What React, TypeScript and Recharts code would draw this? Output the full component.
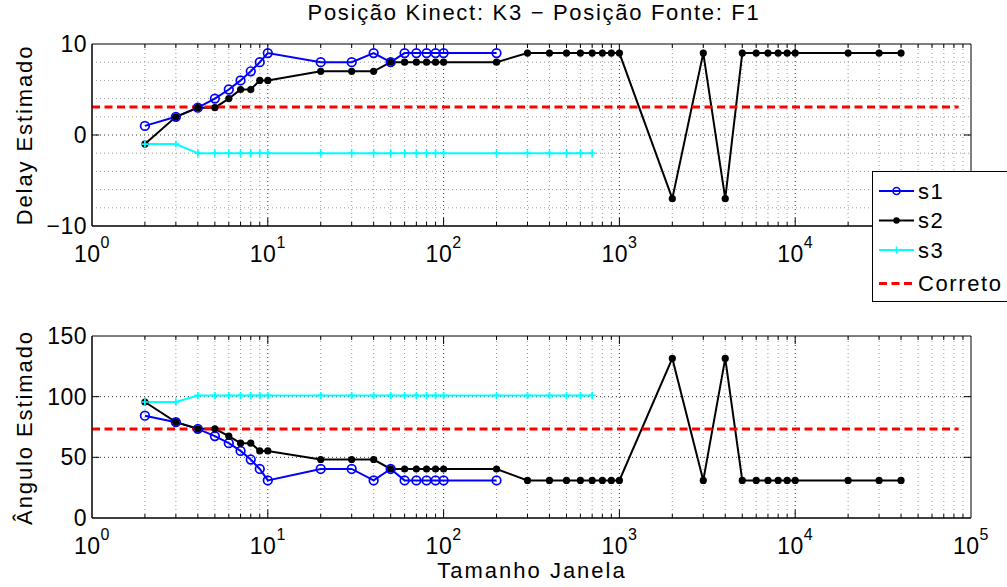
import React from "react";
import { LineChart, Line, XAxis, YAxis, ReferenceLine, ReferenceArea } from "recharts";

// window sizes (x axis, log scale)
const windowSizes = [
  2, 3, 4, 5, 6, 7, 8, 9, 10, 20, 30, 40, 50, 60, 70, 80, 90, 100, 200, 300, 400, 500, 600, 700, 800, 900, 1000,
  2000, 3000, 4000, 5000, 6000, 7000, 8000, 9000, 10000, 20000, 30000, 40000,
];

// delay estimates
const s1Delay = [1, 2, 3, 4, 5, 6, 7, 8, 9, 8, 8, 9, 8, 9, 9, 9, 9, 9, 9];
const s2Delay = [
  -1, 2, 3, 3, 4, 5, 5, 6, 6, 7, 7, 7, 8, 8, 8, 8, 8, 8, 8, 9, 9, 9, 9, 9, 9, 9, 9, -7, 9, -7, 9, 9, 9, 9, 9, 9, 9, 9, 9,
];
const s3Delay = [-1, -1, -2, -2, -2, -2, -2, -2, -2, -2, -2, -2, -2, -2, -2, -2, -2, -2, -2, -2, -2, -2, -2, -2];

// angle estimates
const s1Angle = [84.3, 79, 73.5, 67.5, 61.7, 55.3, 48.2, 40.4, 31, 40.4, 40.4, 31, 40.4, 31, 31, 31, 31, 31, 31];
const s2Angle = [
  95.6, 79, 73.5, 73.5, 67.5, 61.7, 61.7, 55.3, 55.3, 48.2, 48.2, 48.2, 40.4, 40.4, 40.4, 40.4, 40.4, 40.4, 40.4,
  31, 31, 31, 31, 31, 31, 31, 31, 131.5, 31, 131.5, 31, 31, 31, 31, 31, 31, 31, 31, 31,
];
const s3Angle = [
  95.6, 95.6, 101, 101, 101, 101, 101, 101, 101, 101, 101, 101, 101, 101, 101, 101, 101, 101, 101, 101, 101, 101, 101, 101,
];

const correctX = [1, 85000];
const correctDelay = 3.07;
const correctAngle = 73.3;

const xTicks = [1, 10, 100, 1000, 10000, 100000];
const xMajorGrid = [10, 100, 1000, 10000];
const xMinorGrid = [
  2, 3, 4, 5, 6, 7, 8, 9, 20, 30, 40, 50, 60, 70, 80, 90, 200, 300, 400, 500, 600, 700, 800, 900,
  2000, 3000, 4000, 5000, 6000, 7000, 8000, 9000, 20000, 30000, 40000, 50000, 60000, 70000, 80000, 90000,
];
const delayTicks = [-10, 0, 10];
const delayMinorGrid = [-8, -6, -4, -2, 2, 4, 6, 8];
const angleTicks = [0, 50, 100, 150];
const angleMajorGrid = [50, 100];

const FONT = '"Liberation Sans", Arial, Helvetica, sans-serif';
const BLUE = "#0000ff";
const CYAN = "#00ffff";
const RED = "#ff0000";
const PLOT_H = 182;

const zip = (vals: number[]) => vals.map((y, i) => ({ x: windowSizes[i], y }));
const flat = (y: number) => correctX.map((x) => ({ x, y }));

const XTick = (props: any) => {
  const { x, y, payload } = props;
  const exp = Math.round(Math.log10(payload.value));
  return (
    <text x={x} y={y + 36} textAnchor="middle" fontFamily={FONT} fontSize={23} fill="#000" letterSpacing={0.5}>
      <tspan>10</tspan>
      <tspan dy={-14} fontSize={16}>
        {exp}
      </tspan>
    </text>
  );
};

const YTick = (props: any) => {
  const { x, y, payload } = props;
  const v = payload.value;
  return (
    <text x={x - 5} y={y} dy={8} textAnchor="end" fontFamily={FONT} fontSize={23} fill="#000" letterSpacing={0.5}>
      {v < 0 ? "\u2212" + Math.abs(v) : String(v)}
    </text>
  );
};

const CircleDot = (props: any) => {
  const { cx, cy, index } = props;
  return <circle key={"c" + index} cx={cx} cy={cy} r={4.3} fill="none" stroke={BLUE} strokeWidth={1.7} />;
};
const FilledDot = (props: any) => {
  const { cx, cy, index } = props;
  return <circle key={"f" + index} cx={cx} cy={cy} r={3.6} fill="#000" stroke="none" />;
};
const PlusDot = (props: any) => {
  const { cx, cy, index } = props;
  return (
    <path
      key={"p" + index}
      d={`M${cx - 3.5},${cy}H${cx + 3.5}M${cx},${cy - 3.5}V${cy + 3.5}`}
      stroke={CYAN}
      strokeWidth={1.7}
      fill="none"
    />
  );
};

function Panel(props: {
  height: number;
  top: number;
  bottom: number;
  domain: [number, number];
  yTicks: number[];
  hGridMajor: number[];
  hGridMinor: number[];
  a: number[];
  b: number[];
  c: number[];
  correct: number;
}) {
  const { height, top, bottom, domain, yTicks, hGridMajor, hGridMinor, a, b, c, correct } = props;
  const [lo, hi] = domain;
  const perPx = (hi - lo) / PLOT_H;
  const tickLine = (x: number, len: number) => [
    <ReferenceLine key={"tb" + x} segment={[{ x, y: lo }, { x, y: lo + len * perPx }]} stroke="#000" strokeWidth={1} />,
    <ReferenceLine key={"tt" + x} segment={[{ x, y: hi }, { x, y: hi - len * perPx }]} stroke="#000" strokeWidth={1} />,
  ];
  const innerY = yTicks.filter((v) => v !== lo && v !== hi);
  return (
    <LineChart width={1007} height={height} margin={{ top, right: 36, left: 32, bottom }}>
      <XAxis
        dataKey="x"
        type="number"
        scale="log"
        domain={[1, 100000]}
        ticks={xTicks}
        allowDataOverflow
        height={40}
        tickSize={0}
        tickMargin={0}
        tick={<XTick />}
        axisLine={{ stroke: "#000", strokeWidth: 1 }}
      />
      <YAxis
        type="number"
        domain={domain}
        ticks={yTicks}
        width={60}
        tickSize={0}
        tickMargin={0}
        tick={<YTick />}
        axisLine={{ stroke: "#000", strokeWidth: 1 }}
      />
      {xMinorGrid.map((v) => (
        <ReferenceLine key={"xm" + v} x={v} stroke="#9a9a9a" strokeDasharray="1 3" strokeWidth={1} />
      ))}
      {hGridMinor.map((v) => (
        <ReferenceLine key={"ym" + v} y={v} stroke="#9a9a9a" strokeDasharray="1 3" strokeWidth={1} />
      ))}
      {xMajorGrid.map((v) => (
        <ReferenceLine key={"xM" + v} x={v} stroke="#333" strokeDasharray="1 3" strokeWidth={1} />
      ))}
      {hGridMajor.map((v) => (
        <ReferenceLine key={"yM" + v} y={v} stroke="#333" strokeDasharray="1 3" strokeWidth={1} />
      ))}
      {xMinorGrid.map((v) => tickLine(v, 4))}
      {xMajorGrid.map((v) => tickLine(v, 8))}
      {innerY.map((v) => (
        <ReferenceLine key={"yl" + v} segment={[{ x: 1, y: v }, { x: 1.1, y: v }]} stroke="#000" strokeWidth={1} />
      ))}
      {innerY.map((v) => (
        <ReferenceLine key={"yr" + v} segment={[{ x: 91000, y: v }, { x: 100000, y: v }]} stroke="#000" strokeWidth={1} />
      ))}
      <ReferenceArea x1={1} x2={100000} y1={lo} y2={hi} fill="none" stroke="#000" strokeWidth={1} />
      <Line data={zip(a)} dataKey="y" stroke={BLUE} strokeWidth={2} dot={<CircleDot />} isAnimationActive={false} />
      <Line data={zip(b)} dataKey="y" stroke="#000" strokeWidth={2} dot={<FilledDot />} isAnimationActive={false} />
      <Line data={zip(c)} dataKey="y" stroke={CYAN} strokeWidth={2} dot={<PlusDot />} isAnimationActive={false} />
      <Line
        data={flat(correct)}
        dataKey="y"
        stroke={RED}
        strokeWidth={3}
        strokeDasharray="8 4.5"
        dot={false}
        isAnimationActive={false}
      />
    </LineChart>
  );
}

const legendItems = [
  { name: "s1", color: BLUE, marker: "circle" },
  { name: "s2", color: "#000", marker: "dot" },
  { name: "s3", color: CYAN, marker: "plus" },
  { name: "Correto", color: RED, marker: "dash" },
];
const legendRows = [20, 49.5, 79, 112.5];

export default function App() {
  return (
    <div style={{ position: "absolute", left: 0, top: 0, width: 1007, height: 587, background: "#fff", overflow: "hidden" }}>
      <svg width={1007} height={587} style={{ position: "absolute", left: 0, top: 0 }}>
        <text x={534} y={20} textAnchor="middle" fontFamily={FONT} fontSize={22} letterSpacing={1.7} fill="#000">
          Posição Kinect: K3 − Posição Fonte: F1
        </text>
        <text
          transform="translate(32,135) rotate(-90)"
          textAnchor="middle"
          fontFamily={FONT}
          fontSize={22}
          letterSpacing={1.9}
          fill="#000"
        >
          Delay Estimado
        </text>
        <text
          transform="translate(32,427.5) rotate(-90)"
          textAnchor="middle"
          fontFamily={FONT}
          fontSize={22}
          letterSpacing={1.9}
          fill="#000"
        >
          Ângulo Estimado
        </text>
        <text x={532} y={578} textAnchor="middle" fontFamily={FONT} fontSize={22} letterSpacing={2} fill="#000">
          Tamanho Janela
        </text>
      </svg>
      <div style={{ position: "absolute", left: 0, top: 0 }}>
        <Panel
          height={270}
          top={44}
          bottom={4}
          domain={[-10, 10]}
          yTicks={delayTicks}
          hGridMajor={[0]}
          hGridMinor={delayMinorGrid}
          a={s1Delay}
          b={s2Delay}
          c={s3Delay}
          correct={correctDelay}
        />
      </div>
      <div style={{ position: "absolute", left: 0, top: 290 }}>
        <Panel
          height={290}
          top={46}
          bottom={22}
          domain={[0, 150]}
          yTicks={angleTicks}
          hGridMajor={angleMajorGrid}
          hGridMinor={[]}
          a={s1Angle}
          b={s2Angle}
          c={s3Angle}
          correct={correctAngle}
        />
      </div>
      <svg width={135} height={135} style={{ position: "absolute", left: 872, top: 171 }}>
        <rect x={0.5} y={0.5} width={160} height={130} fill="#fff" stroke="#000" strokeWidth={1} />
        {legendItems.map((it, i) => {
          const cy = legendRows[i];
          return (
            <g key={it.name}>
              <line
                x1={7}
                x2={42}
                y1={cy}
                y2={cy}
                stroke={it.color}
                strokeWidth={it.marker === "dash" ? 3 : 2}
                strokeDasharray={it.marker === "dash" ? "8 4.5" : undefined}
              />
              {it.marker === "circle" && <circle cx={24.5} cy={cy} r={3.5} fill="none" stroke={it.color} strokeWidth={1.6} />}
              {it.marker === "dot" && <circle cx={24.5} cy={cy} r={3.2} fill={it.color} />}
              {it.marker === "plus" && (
                <path d={`M21,${cy}H28M24.5,${cy - 3.5}V${cy + 3.5}`} stroke={it.color} strokeWidth={1.6} />
              )}
              <text x={46} y={cy + 7.5} fontFamily={FONT} fontSize={22} letterSpacing={1.6} fill="#000">
                {it.name}
              </text>
            </g>
          );
        })}
      </svg>
    </div>
  );
}
